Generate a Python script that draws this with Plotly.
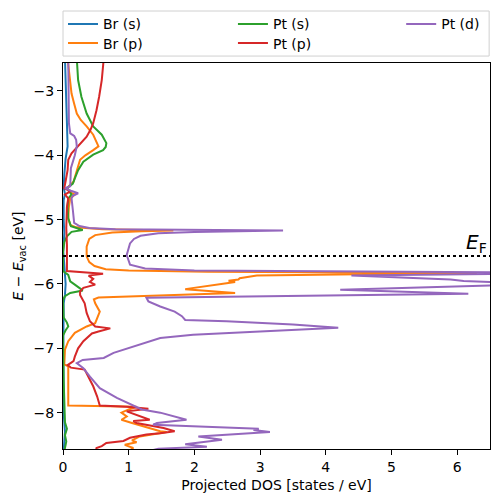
import plotly.graph_objects as go

# ---- data: (energy [eV], projected DOS [states/eV]) ----
br_s_pts = [(-2.50, 0.03), (-3.00, 0.04), (-3.50, 0.06), (-3.86, 0.07), (-4.05, 0.04), (-4.30, 0.02),
            (-4.50, 0.01), (-4.60, 0.03), (-4.70, 0.01), (-5.00, 0.01), (-5.20, 0.02), (-5.50, 0.005),
            (-5.85, 0.03), (-6.00, 0.04), (-6.17, 0.03), (-6.30, 0.01), (-7.00, 0.005), (-8.00, 0.01),
            (-8.30, 0.03), (-8.60, 0.01)]

br_p_pts = [(-2.50, 0.07), (-2.80, 0.10), (-3.04, 0.13), (-3.20, 0.17), (-3.35, 0.21), (-3.45, 0.27),
            (-3.55, 0.36), (-3.68, 0.46), (-3.80, 0.52), (-3.86, 0.54), (-3.92, 0.46), (-4.00, 0.34),
            (-4.07, 0.26), (-4.23, 0.21), (-4.35, 0.17), (-4.41, 0.16), (-4.51, 0.06), (-4.58, 0.12),
            (-4.61, 0.18), (-4.67, 0.11), (-4.80, 0.09), (-4.98, 0.08), (-5.08, 0.11), (-5.12, 0.20),
            (-5.15, 0.60), (-5.17, 1.68), (-5.18, 1.20), (-5.20, 0.75), (-5.24, 0.49), (-5.30, 0.40),
            (-5.42, 0.36), (-5.57, 0.36), (-5.66, 0.40), (-5.72, 0.48), (-5.77, 0.65), (-5.79, 1.00),
            (-5.81, 2.20), (-5.83, 6.30), (-5.85, 4.50), (-5.87, 2.95), (-5.91, 2.69), (-5.93, 2.67),
            (-5.95, 2.52), (-5.97, 2.62), (-5.99, 2.49), (-6.08, 1.86), (-6.14, 2.62), (-6.21, 0.54),
            (-6.24, 0.47), (-6.30, 0.49), (-6.43, 0.56), (-6.55, 0.52), (-6.61, 0.49), (-6.66, 0.36),
            (-6.76, 0.18), (-6.89, 0.08), (-7.02, 0.03), (-7.25, 0.02), (-7.28, 0.08), (-7.89, 0.08),
            (-7.91, 1.12), (-7.95, 1.00), (-8.00, 0.89), (-8.06, 0.97), (-8.11, 0.89), (-8.16, 1.05),
            (-8.22, 1.25), (-8.29, 1.48), (-8.30, 1.58), (-8.37, 1.17), (-8.43, 1.05), (-8.46, 1.12),
            (-8.50, 0.94), (-8.55, 1.07), (-8.60, 1.00)]

pt_s_pts = [(-2.50, 0.21), (-2.83, 0.23), (-3.09, 0.28), (-3.35, 0.36), (-3.55, 0.46), (-3.68, 0.59),
            (-3.81, 0.66), (-3.87, 0.65), (-3.92, 0.61), (-3.99, 0.46), (-4.10, 0.31), (-4.23, 0.23),
            (-4.36, 0.18), (-4.44, 0.15), (-4.51, 0.06), (-4.56, 0.10), (-4.61, 0.13), (-4.67, 0.08),
            (-4.80, 0.07), (-4.98, 0.08), (-5.10, 0.12), (-5.16, 0.30), (-5.19, 0.13), (-5.26, 0.06),
            (-5.35, 0.02), (-5.50, 0.00), (-5.80, 0.00), (-5.86, 0.08), (-5.96, 0.11), (-6.01, 0.18),
            (-6.10, 0.30), (-6.14, 0.11), (-6.19, 0.03), (-6.25, 0.00), (-6.52, 0.01), (-6.60, 0.06),
            (-6.66, 0.08), (-6.72, 0.04), (-6.80, 0.00), (-7.50, 0.01), (-7.95, 0.02), (-8.15, 0.03),
            (-8.25, 0.06), (-8.35, 0.03), (-8.45, 0.05), (-8.60, 0.02)]

pt_p_pts = [(-2.50, 0.62), (-2.60, 0.61), (-2.83, 0.59), (-3.09, 0.55), (-3.30, 0.51), (-3.50, 0.46),
            (-3.60, 0.42), (-3.71, 0.36), (-3.86, 0.23), (-3.97, 0.13), (-4.07, 0.08), (-4.23, 0.07),
            (-4.40, 0.04), (-4.51, 0.02), (-4.56, 0.11), (-4.61, 0.03), (-4.67, 0.08), (-4.80, 0.06),
            (-5.13, 0.05), (-5.40, 0.06), (-5.80, 0.06), (-5.84, 0.61), (-5.87, 0.39), (-5.92, 0.46),
            (-5.97, 0.41), (-6.01, 0.49), (-6.06, 0.31), (-6.12, 0.26), (-6.17, 0.26), (-6.30, 0.33),
            (-6.45, 0.36), (-6.58, 0.41), (-6.66, 0.49), (-6.69, 0.72), (-6.74, 0.54), (-6.77, 0.44),
            (-6.89, 0.31), (-7.00, 0.23), (-7.13, 0.18), (-7.20, 0.16), (-7.26, 0.07), (-7.30, 0.12),
            (-7.33, 0.33), (-7.44, 0.39), (-7.59, 0.46), (-7.75, 0.52), (-7.89, 0.56), (-7.91, 0.97),
            (-7.94, 1.30), (-7.98, 0.97), (-8.06, 1.20), (-8.11, 1.32), (-8.13, 1.07), (-8.16, 1.12),
            (-8.24, 1.53), (-8.29, 1.70), (-8.32, 1.48), (-8.34, 1.27), (-8.39, 1.02), (-8.44, 0.92),
            (-8.47, 0.66), (-8.52, 0.59), (-8.55, 0.51), (-8.60, 0.50)]

pt_d_pts = [(-2.50, 0.08), (-3.00, 0.08), (-3.50, 0.09), (-3.66, 0.11), (-3.70, 0.17), (-3.76, 0.20),
            (-3.86, 0.21), (-4.00, 0.18), (-4.20, 0.12), (-4.48, 0.11), (-4.51, 0.03), (-4.55, 0.12),
            (-4.59, 0.23), (-4.63, 0.15), (-4.67, 0.13), (-4.85, 0.15), (-4.98, 0.16), (-5.05, 0.17),
            (-5.10, 0.25), (-5.13, 0.40), (-5.15, 0.80), (-5.17, 3.35), (-5.19, 2.00), (-5.21, 1.45),
            (-5.25, 1.18), (-5.30, 1.08), (-5.37, 1.02), (-5.55, 0.97), (-5.70, 1.02), (-5.76, 1.25),
            (-5.79, 2.00), (-5.81, 5.00), (-5.825, 8.00), (-5.87, 4.39), (-5.93, 5.90), (-5.955, 6.10),
            (-5.99, 7.00), (-6.02, 6.60), (-6.09, 4.22), (-6.15, 6.17), (-6.215, 1.27), (-6.27, 1.30),
            (-6.35, 1.48), (-6.43, 1.70), (-6.50, 1.81), (-6.56, 1.86), (-6.58, 2.49), (-6.63, 3.50),
            (-6.68, 4.19), (-6.74, 3.00), (-6.79, 1.98), (-6.84, 1.48), (-6.90, 1.30), (-6.95, 1.15),
            (-7.07, 0.77), (-7.15, 0.62), (-7.18, 0.30), (-7.23, 0.21), (-7.31, 0.31), (-7.44, 0.41),
            (-7.62, 0.56), (-7.77, 0.82), (-7.90, 1.10), (-7.95, 1.20), (-8.00, 1.48), (-8.11, 1.88),
            (-8.16, 1.43), (-8.19, 1.37), (-8.25, 2.98), (-8.27, 2.90), (-8.30, 3.15), (-8.37, 2.06),
            (-8.42, 2.42), (-8.49, 1.86), (-8.53, 2.19), (-8.56, 1.45), (-8.60, 1.30)]

fermi_level = -5.565
x_ticks = [0, 1, 2, 3, 4, 5, 6]
y_ticks = [-8, -7, -6, -5, -4, -3]

series = [
    ("Br (s)", br_s_pts, "#1f77b4", "legend"),
    ("Br (p)", br_p_pts, "#ff7f0e", "legend2"),
    ("Pt (s)", pt_s_pts, "#2ca02c", "legend3"),
    ("Pt (p)", pt_p_pts, "#d62728", "legend4"),
    ("Pt (d)", pt_d_pts, "#9467bd", "legend5"),
]

FONT = "DejaVu Sans"
fig = go.Figure()
for name, pts, color, leg in series:
    e, d = zip(*pts)
    fig.add_trace(go.Scatter(x=list(d), y=list(e), mode="lines", name=name,
                             line=dict(color=color, width=2), legend=leg))

fig.add_trace(go.Scatter(x=[0, 6.5], y=[fermi_level, fermi_level], mode="lines",
                         line=dict(color="black", width=2, dash="dot"), showlegend=False))

fig.add_annotation(x=6.49, y=fermi_level, xref="x", yref="y", text="<i>E</i><sub>F</sub>",
                   showarrow=False, xanchor="right", yanchor="bottom", yshift=-2,
                   font=dict(family=FONT, size=20, color="black"))

axis_common = dict(showline=True, mirror=True, linecolor="black", linewidth=1, ticks="outside",
                   ticklen=5, tickwidth=1, tickcolor="black", showgrid=False, zeroline=False,
                   automargin=False, tickfont=dict(family=FONT, size=14, color="black"))

fig.update_xaxes(range=[0, 6.5], tickvals=x_ticks,
                 title=dict(text="Projected DOS [states / eV]", font=dict(family=FONT, size=14, color="black"), standoff=6),
                 **axis_common)
fig.update_yaxes(range=[-8.565, -2.565], tickvals=y_ticks,
                 title=dict(text="<i>E</i> − <i>E</i><sub>vac</sub> [eV]", font=dict(family=FONT, size=14, color="black"), standoff=6),
                 **axis_common)

leg_common = dict(orientation="v", yanchor="middle", xanchor="left", bgcolor="rgba(0,0,0,0)",
                  borderwidth=0, font=dict(family=FONT, size=14, color="black"), tracegroupgap=0)
row1, row2 = 1.100, 1.0505
col1, col2, col3 = 0.0, 0.398, 0.792
fig.update_layout(
    width=498, height=502,
    margin=dict(l=63, r=8, t=63, b=53, autoexpand=False),
    plot_bgcolor="white", paper_bgcolor="white",
    legend=dict(x=col1, y=row1, **leg_common),
    legend2=dict(x=col1, y=row2, **leg_common),
    legend3=dict(x=col2, y=row1, **leg_common),
    legend4=dict(x=col2, y=row2, **leg_common),
    legend5=dict(x=col3, y=row1, **leg_common),
    shapes=[dict(type="rect", xref="paper", yref="paper", x0=0.0, x1=0.998, y0=1.018, y1=1.1347,
                 line=dict(color="#d0d0d0", width=1), fillcolor="rgba(0,0,0,0)", layer="above")],
)

fig.write_html("out.html", config={"displayModeBar": False},
               post_script="document.body.style.margin='0';document.body.style.padding='0';")
